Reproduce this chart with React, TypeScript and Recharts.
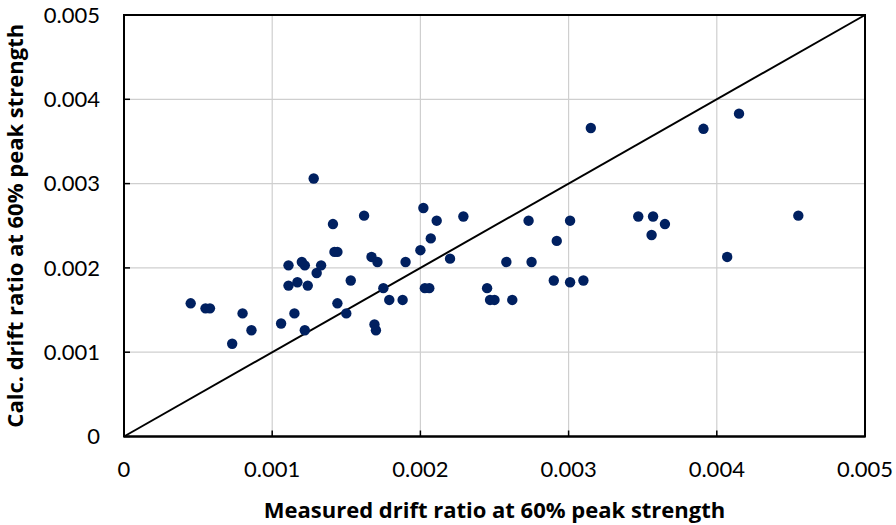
import {
  ScatterChart,
  Scatter,
  XAxis,
  YAxis,
  CartesianGrid,
  ReferenceLine,
  ReferenceArea,
} from 'recharts';

const measured = [
  0.00045, 0.00055, 0.00058, 0.0008, 0.00086, 0.00073, 0.00106, 0.00115, 0.00122, 0.00111,
  0.00117, 0.00124, 0.00111, 0.0012, 0.00122, 0.0013, 0.00133, 0.00128, 0.00141, 0.00142,
  0.00144, 0.00162, 0.00144, 0.0015, 0.00153, 0.00167, 0.00171, 0.00175, 0.00179, 0.00188,
  0.0019, 0.00169, 0.0017, 0.00202, 0.00211, 0.00229, 0.00207, 0.002, 0.0022, 0.00203,
  0.00206, 0.00245, 0.00247, 0.0025, 0.00262, 0.00258, 0.00275, 0.00273, 0.00292, 0.0029,
  0.00301, 0.0031, 0.00301, 0.00315, 0.00347, 0.00357, 0.00365, 0.00356, 0.00391, 0.00415,
  0.00407, 0.00455,
];

const calculated = [
  0.00158, 0.00152, 0.00152, 0.00146, 0.00126, 0.0011, 0.00134, 0.00146, 0.00126, 0.00179,
  0.00183, 0.00179, 0.00203, 0.00207, 0.00203, 0.00194, 0.00203, 0.00306, 0.00252, 0.00219,
  0.00219, 0.00262, 0.00158, 0.00146, 0.00185, 0.00213, 0.00207, 0.00176, 0.00162, 0.00162,
  0.00207, 0.00133, 0.00126, 0.00271, 0.00256, 0.00261, 0.00235, 0.00221, 0.00211, 0.00176,
  0.00176, 0.00176, 0.00162, 0.00162, 0.00162, 0.00207, 0.00207, 0.00256, 0.00232, 0.00185,
  0.00183, 0.00185, 0.00256, 0.00366, 0.00261, 0.00261, 0.00252, 0.00239, 0.00365, 0.00383,
  0.00213, 0.00262,
];

const ticks = [0, 0.001, 0.002, 0.003, 0.004, 0.005];
const tickLabels = ['0', '0.001', '0.002', '0.003', '0.004', '0.005'];

const xTitle = 'Measured drift ratio at 60% peak strength';
const yTitle = 'Calc. drift ratio at 60% peak strength';

const points = measured.map((x, i) => ({ x, y: calculated[i] }));

const FONT = 'Lato, "Open Sans", sans-serif';
const TITLE_FONT = '"Open Sans", Lato, sans-serif';
const tickStyle = { fontSize: 22, fill: '#000', fontFamily: FONT };
const titleStyle = { fontSize: 22, fontWeight: 700, fill: '#000', fontFamily: TITLE_FONT };

const fmt = (v: number) => tickLabels[ticks.findIndex((t) => Math.abs(t - v) < 1e-9)] ?? String(v);

const Dot = (props: any) => (
  <circle cx={props.cx} cy={props.cy} r={5.2} fill="#002060" />
);

export default function App() {
  return (
    <div style={{ position: 'absolute', left: 0, top: 0, background: '#fff' }}>
      <ScatterChart
        width={896}
        height={525}
        margin={{ top: 15, right: 31, bottom: 0, left: 0 }}
      >
        <CartesianGrid stroke="#cfcfcf" strokeWidth={1.2} />
        <XAxis
          type="number"
          dataKey="x"
          domain={[0, 0.005]}
          ticks={ticks}
          tickFormatter={fmt}
          height={88.5}
          tick={tickStyle}
          tickSize={-6}
          tickMargin={31}
          tickLine={{ stroke: '#000', strokeWidth: 1.5 }}
          axisLine={{ stroke: '#000', strokeWidth: 2 }}
          label={{
            value: xTitle,
            position: 'insideBottom',
            offset: 7,
            style: titleStyle,
          }}
        />
        <YAxis
          type="number"
          dataKey="y"
          domain={[0, 0.005]}
          ticks={ticks}
          tickFormatter={fmt}
          width={124}
          tick={tickStyle}
          tickSize={-6}
          tickMargin={30}
          tickLine={{ stroke: '#000', strokeWidth: 1.5 }}
          axisLine={{ stroke: '#000', strokeWidth: 2 }}
          label={{
            value: yTitle,
            angle: -90,
            position: 'insideLeft',
            offset: 15,
            style: { ...titleStyle, textAnchor: 'middle' },
          }}
        />
        <ReferenceArea
          x1={0}
          x2={0.005}
          y1={0}
          y2={0.005}
          fill="none"
          stroke="#000"
          strokeWidth={2}
          ifOverflow="visible"
        />
        <ReferenceLine
          segment={[
            { x: 0, y: 0 },
            { x: 0.005, y: 0.005 },
          ]}
          stroke="#000"
          strokeWidth={2}
        />
        <Scatter data={points} shape={Dot} isAnimationActive={false} />
      </ScatterChart>
    </div>
  );
}
